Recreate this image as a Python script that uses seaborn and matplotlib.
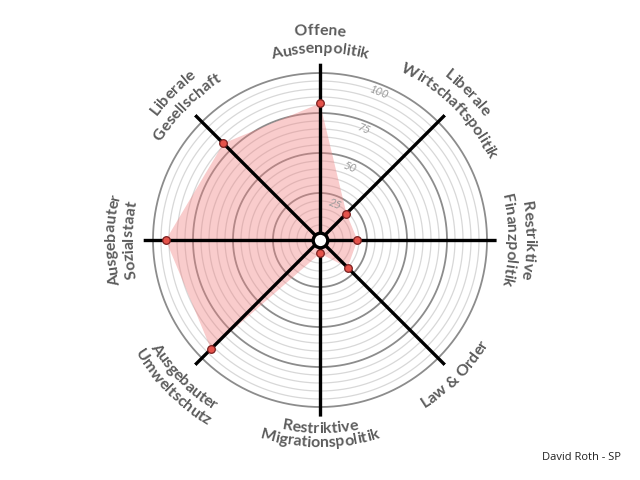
import numpy as np
import matplotlib
matplotlib.use("Agg")
import matplotlib.pyplot as plt
import seaborn as sns
import pandas as pd
from matplotlib.font_manager import FontProperties

# ---- data ----
categories = [
    ["Offene", "Aussenpolitik"],
    ["Liberale", "Wirtschaftspolitik"],
    ["Restriktive", "Finanzpolitik"],
    ["Law & Order"],
    ["Restriktive", "Migrationspolitik"],
    ["Ausgebauter", "Umweltschutz"],
    ["Ausgebauter", "Sozialstaat"],
    ["Liberale", "Gesellschaft"],
]
values = [81, 19, 19, 20, 4, 92, 92, 81]
ring_ticks = [25, 50, 75, 100]
tick_labels = ["25", "50", "75", "100"]
credit = "David Roth - SP"

sns.set_theme(style="white")
plt.rcParams["font.family"] = ["Lato", "DejaVu Sans"]

W, H = 640, 480
cx, cy = 320, 240
R_AX = 176.6
fig = plt.figure(figsize=(6.4, 4.8), dpi=100)
ax = fig.add_axes([(cx - R_AX) / W, (cy - R_AX) / H, 2 * R_AX / W, 2 * R_AX / H],
                  projection="polar")
ax.set_theta_zero_location("N")
ax.set_theta_direction(-1)

n = len(values)
theta = np.arange(n) * 2 * np.pi / n
df = pd.DataFrame({"theta": theta, "value": values})

# rings
circ = np.linspace(0, 2 * np.pi, 500)
for v in range(5, 101, 5):
    major = v % 25 == 0
    ax.plot(circ, np.full_like(circ, v), color="#8c8c8c" if major else "#d8d8d8",
            lw=1.3 if major else 0.9, zorder=1)

# filled polygon
th_c = np.append(theta, theta[0])
v_c = np.append(values, values[0])
ax.fill(th_c, v_c, color="#f08080", alpha=0.4, lw=0, zorder=2)

# spokes
for t in theta:
    ax.plot([t, t], [0, 106], color="black", lw=2.4, solid_capstyle="butt", zorder=3)

# points
sns.scatterplot(data=df, x="theta", y="value", ax=ax, color="#e5534b",
                edgecolor="#7a1f1f", s=30, linewidth=0.9, zorder=6, legend=False)

# centre circle
ax.plot(0.5, 0.5, "o", transform=ax.transAxes, ms=10.5, mfc="white", mec="black",
        mew=2.4, zorder=7, clip_on=False)

# ring tick labels
for v, lab in zip(ring_ticks, tick_labels):
    ax.text(np.radians(22), v - 5, lab, rotation=-22, ha="center", va="center",
            rotation_mode="anchor", fontsize=8, style="italic", color="#9a9a9a", zorder=4)

ax.set_ylim(0, 106)
ax.set_rorigin(-4.4)
ax.grid(False)
ax.set_xticks([])
ax.set_yticks([])
ax.set_xlabel("")
ax.set_ylabel("")
ax.spines["polar"].set_visible(False)
ax.patch.set_alpha(0)

# curved category labels
fp = FontProperties(family=["Lato", "DejaVu Sans"], weight="bold", size=11.5)
fig.canvas.draw()
renderer = fig.canvas.get_renderer()


def tw(s):
    if not s:
        return 0.0
    w, h, d = renderer.get_text_width_height_descent(s, fp, ismath=False)
    return w


def curved(s, phi0_deg, R, cw):
    Wt = tw(s)
    phi0 = np.radians(phi0_deg)
    for i, ch in enumerate(s):
        if ch == " ":
            continue
        c = tw(s[:i + 1]) - tw(ch) / 2 - Wt / 2
        if cw:
            phi = phi0 - c / R
            rot = np.degrees(phi) - 90
        else:
            phi = phi0 + c / R
            rot = np.degrees(phi) + 90
        x = cx + R * np.cos(phi)
        y = cy + R * np.sin(phi)
        fig.text(x / W, y / H, ch, fontproperties=fp, color="#5c5c5c", rotation=rot,
                 rotation_mode="anchor", ha="center", va="baseline")


radii = {0: (205, 187), 1: (205, 187), 2: (205, 187), 6: (205, 187), 7: (205, 187),
         4: (193, 207), 5: (201, 217), 3: (198,)}
for i, lines in enumerate(categories):
    phi0 = 90 - i * 45
    cw = i not in (3, 4, 5)
    for line, R in zip(lines, radii[i]):
        curved(line, phi0, R, cw)

fig.text(581 / W, 1 - 458 / H, credit, ha="center", va="center", fontsize=8,
         color="#222222", family=["Open Sans", "DejaVu Sans"])

fig.savefig("out.png", dpi=100)
